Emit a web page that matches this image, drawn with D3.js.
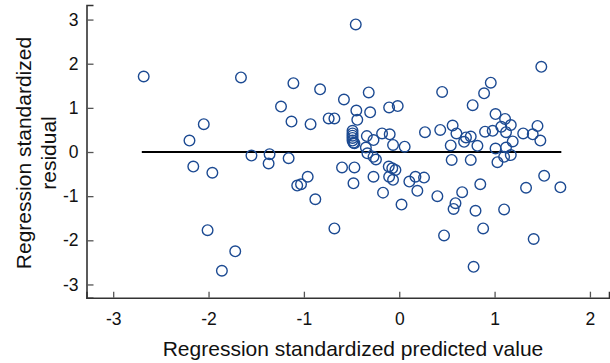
<!DOCTYPE html>
<html><head><meta charset="utf-8">
<script src="https://cdn.jsdelivr.net/npm/d3@7"></script>
<style>body{margin:0;background:#fff}svg{display:block}text{font-family:"Liberation Sans",Arial,sans-serif;fill:#111}</style>
</head><body>
<svg id="c" width="610" height="363"></svg>
<script>
const predicted = [-2.68,-1.66,-0.456,1.49,-1.11,-0.83,-0.32,0.45,0.96,0.89,-0.58,-1.24,-0.45,-0.305,-0.106,-0.016,0.77,1.01,-1.13,-0.93,-0.74,-0.68,-0.44,-2.05,1.11,1.07,1.17,0.56,1.45,0.43,0.27,0.60,0.70,0.75,0.90,0.98,1.12,1.30,1.40,1.48,1.19,0.68,0.82,0.54,1.01,1.12,-0.18,-0.10,-0.065,0.057,-0.34,-0.27,-0.49,-0.49,-0.49,-0.49,-0.49,-0.48,-0.47,-0.35,-2.20,-1.55,-1.36,-1.37,-1.16,-2.16,-1.96,-0.334,-0.27,-0.244,-0.60,-0.47,-0.11,-0.073,-0.04,-0.106,-0.065,-0.27,-0.48,-0.96,-1.07,-1.03,-0.88,-0.17,0.024,0.106,0.17,0.26,0.19,0.40,0.55,0.75,0.66,0.85,0.59,0.57,0.80,1.10,1.33,1.52,1.69,1.03,1.10,1.17,-0.68,-2.01,-1.72,-1.86,0.47,0.88,1.41,0.78];
const residual = [1.71,1.69,2.89,1.93,1.56,1.42,1.35,1.36,1.57,1.33,1.19,1.03,0.94,0.90,1.01,1.04,1.06,0.86,0.69,0.63,0.76,0.76,0.73,0.63,0.75,0.57,0.61,0.60,0.59,0.50,0.45,0.42,0.33,0.35,0.46,0.48,0.45,0.42,0.40,0.26,0.24,0.23,0.14,0.15,0.08,0.10,0.42,0.40,0.16,0.12,0.36,0.27,0.48,0.42,0.37,0.32,0.26,0.21,0.20,0.10,0.26,-0.08,-0.05,-0.26,-0.14,-0.33,-0.47,-0.03,-0.11,-0.17,-0.35,-0.35,-0.33,-0.37,-0.41,-0.56,-0.63,-0.56,-0.71,-0.56,-0.76,-0.73,-1.07,-0.92,-1.19,-0.67,-0.56,-0.58,-0.88,-1.00,-0.18,-0.18,-0.91,-0.73,-1.16,-1.29,-1.33,-1.30,-0.81,-0.54,-0.80,-0.23,-0.11,-0.07,-1.73,-1.77,-2.25,-2.69,-1.89,-1.73,-1.97,-2.60];
const xTicks = [-3,-2,-1,0,1,2];
const yTicks = [-3,-2,-1,0,1,2,3];
const refLine = [[-2.7,0],[1.7,0]];
const xLabel = "Regression standardized predicted value";
const yLabel = ["Regression standardized","residual"];

const svg = d3.select("#c");
const x = d3.scaleLinear().domain([-3.28,2.2]).range([86.5,609]);
const y = d3.scaleLinear().domain([-3.3,3.33]).range([297.7,5]);
const fmt = d => String(d);

const gx = svg.append("g").attr("transform","translate(0,297.7)")
  .call(d3.axisBottom(x).tickValues(xTicks).tickSize(-6).tickPadding(15).tickFormat(fmt));
const gy = svg.append("g").attr("transform","translate(86.5,0)")
  .call(d3.axisLeft(y).tickValues(yTicks).tickSize(-7).tickPadding(8).tickFormat(fmt));
[gx,gy].forEach(g=>{
  g.select(".domain").attr("stroke","#333").attr("stroke-width",1.6);
  g.selectAll(".tick line").attr("stroke","#555").attr("stroke-width",1.3);
  g.selectAll(".tick text").attr("font-size",17.5).attr("fill","#111").style("font-family","'Liberation Sans',Arial,sans-serif");
});
gx.selectAll(".tick text").attr("text-anchor","middle");

svg.append("path").datum(refLine)
  .attr("d", d3.line().x(d=>x(d[0])).y(d=>y(d[1])))
  .attr("stroke","#000").attr("stroke-width",2).attr("fill","none");

svg.append("g").selectAll("circle").data(predicted.map((p,i)=>[p,residual[i]]))
  .join("circle").attr("cx",d=>x(d[0])).attr("cy",d=>y(d[1])).attr("r",5.3)
  .attr("fill","none").attr("stroke","#1c4a92").attr("stroke-width",1.4);

svg.append("text").attr("x",353).attr("y",356).attr("text-anchor","middle").attr("font-size",21).text(xLabel);
const yl = svg.append("text").attr("transform","translate(0,153) rotate(-90)").attr("text-anchor","middle").attr("font-size",21);
yl.append("tspan").attr("x",0).attr("y",31).text(yLabel[0]);
yl.append("tspan").attr("x",0).attr("y",56).text(yLabel[1]);
</script>
</body></html>
